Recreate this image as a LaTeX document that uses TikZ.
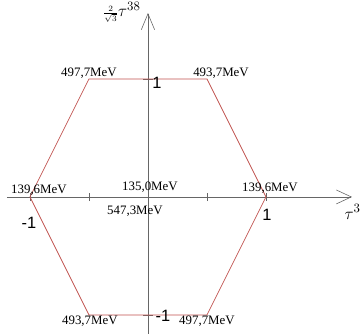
\documentclass[tikz,border=0pt]{standalone}
\usepackage{amsmath}
\usepackage{fontspec}
\setmainfont{Liberation Serif}
\newfontfamily\numfont{Liberation Sans}
\usetikzlibrary{arrows.meta}
\definecolor{hexred}{RGB}{192,80,77}

\begin{document}
\begin{tikzpicture}[x=3.54cm,y=3.54cm,
  axis/.style={black!60, line width=0.5pt},
  edge/.style={hexred, line width=0.6pt},
  mass/.style={font=\fontsize{11}{12}\selectfont, inner sep=0pt},
  unit/.style={font=\numfont\fontsize{14}{16}\selectfont, inner sep=0pt}]

  \useasboundingbox (-1.254,-1.161) rectangle (1.797,1.669);

  % Axes
  \coordinate (xs) at (-1.195,0);
  \coordinate (xe) at (1.729,0);
  \coordinate (ys) at (0,-1.2);
  \coordinate (ye) at (0,1.559);
  \draw[axis,-{Straight Barb[length=4.5mm,width=4.2mm]}] (xs) -- (xe);
  \draw[axis,-{Straight Barb[length=4.8mm,width=4mm]}] (ys) -- (ye);

  % Ticks
  \foreach \t in {-1,-0.5,0.5,1}
    \draw[axis] (\t,-0.035) -- (\t,0.035);
  \foreach \t in {-1,1}
    \draw[axis] (-0.04,\t) -- (0.04,\t);

  % Hexagon
  \coordinate (A) at (1,0);
  \coordinate (B) at (0.5,1);
  \coordinate (C) at (-0.5,1);
  \coordinate (D) at (-1,0);
  \coordinate (E) at (-0.5,-1);
  \coordinate (F) at (0.5,-1);
  \draw[edge] (A) -- (B) -- (C) -- (D) -- (E) -- (F) -- cycle;

  % Masses
  \node[mass] (kC) at (-0.5,1.051) {497,7MeV};
  \node[mass] (kD) at (0.619,1.051) {493,7MeV};
  \node[mass] (piL) at (-0.924,0.059) {139,6MeV};
  \node[mass] (piR) at (1.034,0.070) {139,6MeV};
  \node[mass] (piO) at (0.017,0.085) {135,0MeV};
  \node[mass] (eta) at (-0.11,-0.119) {547,3MeV};
  \node[mass] (kE) at (-0.492,-1.051) {493,7MeV};
  \node[mass] (kF) at (0.5,-1.051) {497,7MeV};

  % Labels
  \node[unit] (oneT) at (0.076,0.966) {1};
  \node[unit] (oneB) at (0.127,-1.008) {-1};
  \node[unit] (oneL) at (-1.008,-0.22) {-1};
  \node[unit] (oneR) at (1.008,-0.153) {1};
  \node[inner sep=0pt, anchor=west, font=\fontsize{15}{17}\selectfont] (tx) at (1.665,-0.127) {$\tau^{33}$};
  \node[inner sep=0pt, anchor=east, font=\fontsize{15}{17}\selectfont] (ty) at (-0.06,1.565) {$\scriptstyle\frac{2}{\sqrt{3}}\textstyle\tau^{38}$};
\end{tikzpicture}
\end{document}
